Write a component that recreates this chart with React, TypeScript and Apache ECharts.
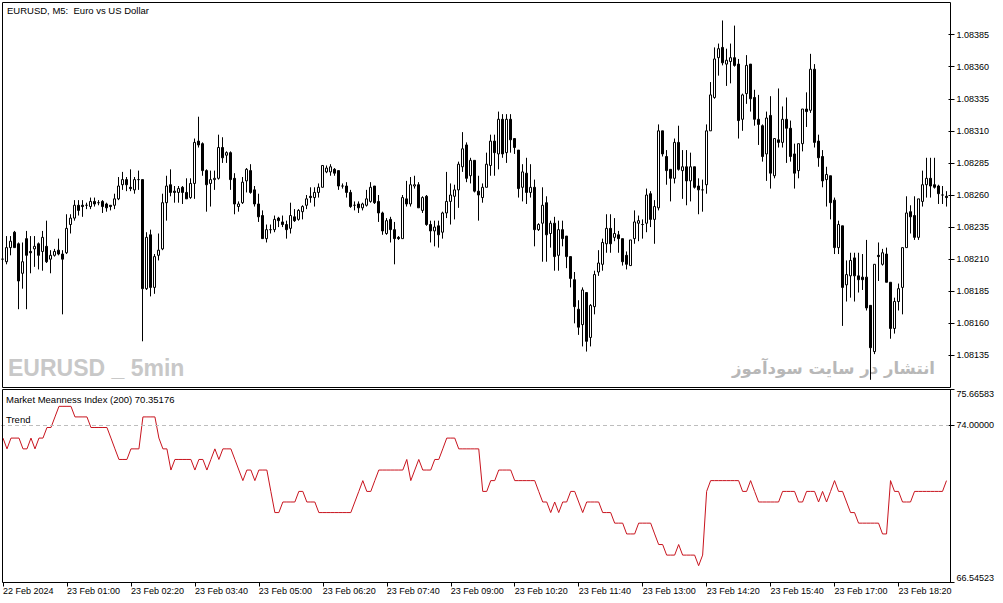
import { useEffect, useRef } from "react";
import * as echarts from "echarts";

const FONT = "'Liberation Sans', Arial, sans-serif";

// bottom time axis: one label every 16 bars (80 minutes of M5)
const timeLabels = [
  "22 Feb 2024", "23 Feb 01:00", "23 Feb 02:20", "23 Feb 03:40", "23 Feb 05:00",
  "23 Feb 06:20", "23 Feb 07:40", "23 Feb 09:00", "23 Feb 10:20", "23 Feb 11:40",
  "23 Feb 13:00", "23 Feb 14:20", "23 Feb 15:40", "23 Feb 17:00", "23 Feb 18:20",
];
const barsPerLabel = 16;

const priceTicks = [
  1.08135, 1.0816, 1.08185, 1.0821, 1.08235, 1.0826, 1.08285, 1.0831, 1.08335, 1.0836, 1.08385,
];
const priceMin = 1.0811;
const priceMax = 1.0841;

const mmiMin = 66.54523;
const mmiMax = 75.66583;
const mmiLevel = 74;

const open = [
  1.08210, 1.08208, 1.08219, 1.08231, 1.08222, 1.08199, 1.08226, 1.08216, 1.08218, 1.08222,
  1.08216, 1.08220, 1.08210, 1.08213, 1.08217, 1.08214, 1.08215, 1.08237, 1.08242, 1.08252,
  1.08252, 1.08252, 1.08251, 1.08255, 1.08254, 1.08255, 1.08253, 1.08252, 1.08252, 1.08257,
  1.08268, 1.08272, 1.08266, 1.08264, 1.08272, 1.08272, 1.08187, 1.08229, 1.08188, 1.08213,
  1.08218, 1.08254, 1.08268, 1.08263, 1.08262, 1.08266, 1.08262, 1.08258, 1.08269, 1.08302,
  1.08300, 1.08279, 1.08269, 1.08272, 1.08273, 1.08297, 1.08291, 1.08293, 1.08273, 1.08251,
  1.08254, 1.08271, 1.08279, 1.08264, 1.08253, 1.08244, 1.08226, 1.08233, 1.08233, 1.08242,
  1.08239, 1.08237, 1.08234, 1.08243, 1.08241, 1.08247, 1.08252, 1.08259, 1.08258, 1.08262,
  1.08266, 1.08278, 1.08278, 1.08280, 1.08279, 1.08267, 1.08267, 1.08262, 1.08252, 1.08253,
  1.08250, 1.08252, 1.08255, 1.08267, 1.08255, 1.08246, 1.08230, 1.08241, 1.08233, 1.08227,
  1.08226, 1.08257, 1.08253, 1.08267, 1.08268, 1.08248, 1.08259, 1.08237, 1.08232, 1.08236,
  1.08231, 1.08246, 1.08255, 1.08259, 1.08264, 1.08282, 1.08299, 1.08275, 1.08287, 1.08263,
  1.08258, 1.08266, 1.08283, 1.08302, 1.08292, 1.08319, 1.08293, 1.08319, 1.08304, 1.08295,
  1.08266, 1.08277, 1.08262, 1.08266, 1.08233, 1.08238, 1.08254, 1.08230, 1.08238, 1.08213,
  1.08233, 1.08228, 1.08212, 1.08194, 1.08171, 1.08159, 1.08184, 1.08149, 1.08173, 1.08200,
  1.08206, 1.08222, 1.08234, 1.08227, 1.08229, 1.08226, 1.08213, 1.08205, 1.08226, 1.08238,
  1.08237, 1.08238, 1.08261, 1.08241, 1.08250, 1.08310, 1.08290, 1.08280, 1.08273, 1.08301,
  1.08279, 1.08282, 1.08271, 1.08282, 1.08267, 1.08264, 1.08268, 1.08310, 1.08336, 1.08367,
  1.08375, 1.08362, 1.08364, 1.08367, 1.08362, 1.08319, 1.08339, 1.08362, 1.08336, 1.08319,
  1.08314, 1.08292, 1.08322, 1.08275, 1.08303, 1.08301, 1.08319, 1.08312, 1.08292, 1.08279,
  1.08300, 1.08327, 1.08326, 1.08358, 1.08302, 1.08290, 1.08272, 1.08275, 1.08256, 1.08219,
  1.08236, 1.08190, 1.08197, 1.08211, 1.08197, 1.08196, 1.08196, 1.08174, 1.08138, 1.08213,
  1.08206, 1.08214, 1.08192, 1.08156, 1.08177, 1.08188, 1.08219, 1.08247, 1.08244, 1.08227,
  1.08255, 1.08268, 1.08273, 1.08268, 1.08267, 1.08260, 1.08259,
];

const high = [
  1.08211, 1.08228, 1.08228, 1.08232, 1.08223, 1.08223, 1.08232, 1.08228, 1.08228, 1.08223,
  1.08232, 1.08240, 1.08217, 1.08218, 1.08226, 1.08217, 1.08245, 1.08245, 1.08256, 1.08256,
  1.08256, 1.08254, 1.08258, 1.08258, 1.08256, 1.08256, 1.08254, 1.08252, 1.08261, 1.08274,
  1.08278, 1.08274, 1.08280, 1.08274, 1.08279, 1.08272, 1.08231, 1.08233, 1.08214, 1.08230,
  1.08261, 1.08275, 1.08280, 1.08267, 1.08267, 1.08267, 1.08273, 1.08273, 1.08304, 1.08321,
  1.08301, 1.08280, 1.08279, 1.08279, 1.08307, 1.08305, 1.08294, 1.08294, 1.08277, 1.08255,
  1.08274, 1.08281, 1.08284, 1.08267, 1.08261, 1.08248, 1.08237, 1.08237, 1.08244, 1.08243,
  1.08244, 1.08240, 1.08254, 1.08249, 1.08249, 1.08252, 1.08260, 1.08266, 1.08266, 1.08269,
  1.08283, 1.08283, 1.08284, 1.08281, 1.08279, 1.08269, 1.08270, 1.08264, 1.08255, 1.08255,
  1.08254, 1.08264, 1.08270, 1.08267, 1.08260, 1.08247, 1.08242, 1.08243, 1.08239, 1.08228,
  1.08260, 1.08271, 1.08274, 1.08275, 1.08270, 1.08259, 1.08260, 1.08240, 1.08240, 1.08240,
  1.08247, 1.08278, 1.08269, 1.08268, 1.08286, 1.08309, 1.08301, 1.08289, 1.08287, 1.08275,
  1.08269, 1.08293, 1.08307, 1.08307, 1.08325, 1.08323, 1.08323, 1.08323, 1.08304, 1.08295,
  1.08284, 1.08289, 1.08284, 1.08272, 1.08238, 1.08266, 1.08259, 1.08240, 1.08243, 1.08240,
  1.08240, 1.08228, 1.08212, 1.08200, 1.08178, 1.08188, 1.08184, 1.08175, 1.08201, 1.08217,
  1.08226, 1.08245, 1.08245, 1.08242, 1.08232, 1.08226, 1.08216, 1.08225, 1.08248, 1.08244,
  1.08241, 1.08265, 1.08263, 1.08256, 1.08315, 1.08310, 1.08295, 1.08280, 1.08304, 1.08314,
  1.08295, 1.08295, 1.08293, 1.08282, 1.08273, 1.08272, 1.08315, 1.08348, 1.08375, 1.08378,
  1.08396, 1.08374, 1.08378, 1.08392, 1.08366, 1.08339, 1.08369, 1.08362, 1.08342, 1.08338,
  1.08315, 1.08325, 1.08337, 1.08304, 1.08343, 1.08329, 1.08336, 1.08318, 1.08300, 1.08300,
  1.08327, 1.08340, 1.08370, 1.08362, 1.08307, 1.08295, 1.08282, 1.08275, 1.08258, 1.08240,
  1.08236, 1.08209, 1.08215, 1.08215, 1.08215, 1.08214, 1.08225, 1.08174, 1.08206, 1.08223,
  1.08218, 1.08219, 1.08192, 1.08180, 1.08191, 1.08219, 1.08259, 1.08252, 1.08259, 1.08257,
  1.08279, 1.08289, 1.08289, 1.08289, 1.08268, 1.08267, 1.08263,
];

const low = [
  1.08209, 1.08206, 1.08213, 1.08219, 1.08171, 1.08187, 1.08171, 1.08199, 1.08204, 1.08202,
  1.08201, 1.08207, 1.08199, 1.08212, 1.08213, 1.08167, 1.08214, 1.08230, 1.08240, 1.08244,
  1.08243, 1.08249, 1.08249, 1.08251, 1.08252, 1.08246, 1.08247, 1.08248, 1.08249, 1.08256,
  1.08264, 1.08263, 1.08263, 1.08261, 1.08264, 1.08146, 1.08186, 1.08181, 1.08183, 1.08209,
  1.08217, 1.08240, 1.08259, 1.08254, 1.08254, 1.08253, 1.08257, 1.08257, 1.08257, 1.08297,
  1.08275, 1.08247, 1.08251, 1.08264, 1.08272, 1.08285, 1.08285, 1.08264, 1.08245, 1.08247,
  1.08253, 1.08262, 1.08261, 1.08251, 1.08239, 1.08226, 1.08223, 1.08230, 1.08231, 1.08235,
  1.08235, 1.08226, 1.08230, 1.08239, 1.08240, 1.08241, 1.08249, 1.08254, 1.08251, 1.08258,
  1.08266, 1.08277, 1.08275, 1.08275, 1.08264, 1.08265, 1.08258, 1.08250, 1.08248, 1.08246,
  1.08248, 1.08251, 1.08254, 1.08253, 1.08239, 1.08229, 1.08229, 1.08223, 1.08206, 1.08225,
  1.08226, 1.08251, 1.08251, 1.08265, 1.08250, 1.08246, 1.08236, 1.08223, 1.08220, 1.08219,
  1.08226, 1.08242, 1.08237, 1.08241, 1.08250, 1.08278, 1.08270, 1.08269, 1.08262, 1.08240,
  1.08254, 1.08266, 1.08275, 1.08275, 1.08280, 1.08289, 1.08285, 1.08293, 1.08292, 1.08258,
  1.08255, 1.08253, 1.08258, 1.08220, 1.08232, 1.08208, 1.08208, 1.08219, 1.08201, 1.08201,
  1.08220, 1.08203, 1.08188, 1.08160, 1.08151, 1.08142, 1.08138, 1.08142, 1.08167, 1.08197,
  1.08201, 1.08215, 1.08215, 1.08224, 1.08215, 1.08205, 1.08202, 1.08205, 1.08222, 1.08224,
  1.08226, 1.08231, 1.08235, 1.08222, 1.08248, 1.08290, 1.08268, 1.08255, 1.08269, 1.08279,
  1.08257, 1.08252, 1.08255, 1.08265, 1.08245, 1.08247, 1.08261, 1.08310, 1.08335, 1.08353,
  1.08361, 1.08345, 1.08347, 1.08360, 1.08304, 1.08310, 1.08331, 1.08325, 1.08314, 1.08299,
  1.08286, 1.08271, 1.08265, 1.08273, 1.08297, 1.08297, 1.08285, 1.08286, 1.08265, 1.08273,
  1.08294, 1.08313, 1.08324, 1.08297, 1.08282, 1.08266, 1.08251, 1.08241, 1.08214, 1.08214,
  1.08158, 1.08177, 1.08180, 1.08177, 1.08184, 1.08186, 1.08170, 1.08116, 1.08136, 1.08193,
  1.08205, 1.08192, 1.08148, 1.08152, 1.08170, 1.08167, 1.08219, 1.08230, 1.08225, 1.08225,
  1.08251, 1.08258, 1.08258, 1.08265, 1.08253, 1.08253, 1.08251,
];

const close = [
  1.08210, 1.08219, 1.08224, 1.08219, 1.08193, 1.08208, 1.08213, 1.08215, 1.08220, 1.08213,
  1.08227, 1.08208, 1.08213, 1.08216, 1.08214, 1.08210, 1.08234, 1.08242, 1.08252, 1.08248,
  1.08251, 1.08252, 1.08255, 1.08253, 1.08254, 1.08251, 1.08250, 1.08251, 1.08257, 1.08267,
  1.08272, 1.08268, 1.08265, 1.08272, 1.08272, 1.08187, 1.08227, 1.08188, 1.08212, 1.08217,
  1.08254, 1.08267, 1.08262, 1.08262, 1.08265, 1.08262, 1.08257, 1.08269, 1.08301, 1.08299,
  1.08279, 1.08268, 1.08272, 1.08273, 1.08297, 1.08289, 1.08293, 1.08272, 1.08253, 1.08253,
  1.08270, 1.08280, 1.08262, 1.08253, 1.08243, 1.08226, 1.08233, 1.08233, 1.08241, 1.08240,
  1.08237, 1.08233, 1.08244, 1.08240, 1.08248, 1.08251, 1.08257, 1.08258, 1.08262, 1.08266,
  1.08283, 1.08281, 1.08282, 1.08277, 1.08267, 1.08267, 1.08262, 1.08251, 1.08252, 1.08250,
  1.08253, 1.08257, 1.08266, 1.08254, 1.08246, 1.08232, 1.08240, 1.08233, 1.08226, 1.08226,
  1.08258, 1.08253, 1.08268, 1.08268, 1.08250, 1.08258, 1.08237, 1.08232, 1.08235, 1.08229,
  1.08246, 1.08255, 1.08260, 1.08264, 1.08284, 1.08296, 1.08273, 1.08287, 1.08263, 1.08260,
  1.08266, 1.08284, 1.08302, 1.08293, 1.08319, 1.08292, 1.08319, 1.08303, 1.08297, 1.08265,
  1.08278, 1.08262, 1.08266, 1.08233, 1.08237, 1.08252, 1.08229, 1.08238, 1.08212, 1.08233,
  1.08226, 1.08212, 1.08195, 1.08173, 1.08157, 1.08186, 1.08146, 1.08174, 1.08198, 1.08207,
  1.08223, 1.08234, 1.08222, 1.08230, 1.08226, 1.08208, 1.08206, 1.08225, 1.08239, 1.08240,
  1.08237, 1.08260, 1.08241, 1.08251, 1.08310, 1.08292, 1.08279, 1.08273, 1.08301, 1.08280,
  1.08282, 1.08271, 1.08282, 1.08266, 1.08264, 1.08264, 1.08310, 1.08338, 1.08366, 1.08374,
  1.08363, 1.08365, 1.08367, 1.08361, 1.08318, 1.08338, 1.08361, 1.08335, 1.08319, 1.08315,
  1.08290, 1.08320, 1.08277, 1.08304, 1.08301, 1.08319, 1.08312, 1.08290, 1.08277, 1.08300,
  1.08327, 1.08325, 1.08358, 1.08301, 1.08289, 1.08271, 1.08276, 1.08254, 1.08219, 1.08237,
  1.08188, 1.08198, 1.08209, 1.08197, 1.08194, 1.08194, 1.08172, 1.08141, 1.08206, 1.08212,
  1.08215, 1.08192, 1.08156, 1.08177, 1.08187, 1.08219, 1.08246, 1.08243, 1.08227, 1.08257,
  1.08268, 1.08273, 1.08267, 1.08266, 1.08261, 1.08260, 1.08258,
];

// Market Meanness Index (200), one value per bar
const mmi = [
  73.37, 72.86, 73.37, 73.37, 73.37, 72.86, 72.86, 73.37, 72.86, 73.37,
  73.37, 73.87, 73.87, 74.37, 74.87, 74.87, 74.87, 74.87, 74.37, 74.37,
  74.37, 74.37, 73.87, 73.87, 73.87, 73.87, 73.87, 73.37, 72.86, 72.36,
  72.36, 72.36, 72.86, 72.86, 72.86, 74.37, 74.37, 74.37, 74.37, 73.37,
  72.86, 72.86, 71.86, 72.36, 72.36, 72.36, 72.36, 72.36, 71.86, 72.36,
  72.36, 71.86, 72.36, 72.86, 72.36, 72.86, 72.86, 72.86, 72.36, 71.86,
  71.36, 71.86, 71.86, 71.36, 71.86, 71.86, 71.86, 70.85, 69.85, 69.85,
  70.35, 70.35, 70.35, 70.35, 70.85, 70.85, 70.35, 70.35, 70.35, 69.85,
  69.85, 69.85, 69.85, 69.85, 69.85, 69.85, 69.85, 69.85, 70.35, 70.85,
  71.36, 70.85, 70.85, 71.36, 71.86, 71.86, 71.86, 71.86, 71.86, 71.86,
  71.86, 72.36, 71.36, 71.86, 72.36, 71.86, 71.86, 71.86, 72.36, 72.36,
  72.86, 73.37, 73.37, 73.37, 72.86, 72.86, 72.86, 72.86, 72.86, 72.86,
  70.85, 70.85, 71.36, 71.36, 71.86, 71.86, 71.86, 71.86, 71.36, 71.36,
  71.36, 71.36, 71.36, 71.36, 70.85, 70.35, 70.35, 69.85, 70.35, 69.85,
  70.35, 70.35, 70.85, 70.85, 70.35, 69.85, 70.35, 70.35, 70.35, 70.35,
  69.85, 69.85, 69.85, 69.35, 69.35, 69.35, 68.84, 68.84, 68.84, 69.35,
  69.35, 69.35, 69.35, 68.84, 68.34, 68.34, 67.84, 67.84, 67.84, 68.34,
  67.84, 67.84, 67.84, 67.84, 67.34, 67.84, 70.85, 71.36, 71.36, 71.36,
  71.36, 71.36, 71.36, 71.36, 71.36, 70.85, 70.85, 71.36, 70.85, 70.35,
  70.35, 70.35, 70.35, 70.35, 70.35, 70.85, 70.85, 70.85, 70.85, 70.35,
  70.35, 70.85, 70.85, 70.85, 70.35, 70.85, 70.35, 70.85, 71.36, 70.85,
  70.85, 70.35, 69.85, 69.85, 69.35, 69.35, 69.35, 69.35, 69.35, 69.35,
  68.84, 68.84, 71.36, 70.85, 70.85, 70.35, 70.35, 70.35, 70.85, 70.85,
  70.85, 70.85, 70.85, 70.85, 70.85, 70.85, 71.36,
];

const categories = open.map((_, i) =>
  i % barsPerLabel === 0 ? timeLabels[i / barsPerLabel] ?? "" : "",
);

const labelText = { color: "#000", fontSize: 9, fontFamily: FONT };

function buildOption(): echarts.EChartsOption {
  const panelY = (gridIndex: number, extra: object) => ({
    type: "value" as const,
    gridIndex,
    position: "right" as const,
    scale: true,
    axisLine: { show: false },
    splitLine: { show: false },
    ...extra,
  });
  return {
    animation: false,
    backgroundColor: "#fff",
    textStyle: { fontFamily: FONT },
    grid: [
      { left: 0.5, top: 2.5, width: 948, height: 385 },
      { left: 0.5, top: 389.5, width: 948, height: 193 },
    ],
    xAxis: [
      { type: "category", gridIndex: 0, data: categories, show: false },
      {
        type: "category",
        gridIndex: 1,
        data: categories,
        axisLine: { show: false },
        axisTick: {
          show: true,
          alignWithLabel: true,
          interval: barsPerLabel - 1,
          length: 4,
          lineStyle: { color: "#000" },
        },
        axisLabel: { ...labelText, interval: barsPerLabel - 1, align: "left", margin: 4 },
        splitLine: { show: false },
      },
    ],
    yAxis: [
      panelY(0, {
        min: priceMin,
        max: priceMax,
        axisTick: { show: true, length: 6, customValues: priceTicks, lineStyle: { color: "#000" } },
        axisLabel: {
          ...labelText,
          margin: 8,
          customValues: priceTicks,
          formatter: (v: number) => v.toFixed(5),
        },
      }),
      panelY(1, {
        min: mmiMin,
        max: mmiMax,
        axisTick: {
          show: true,
          length: 6,
          customValues: [mmiMin, mmiLevel, mmiMax],
          lineStyle: { color: "#000" },
        },
        axisLabel: {
          ...labelText,
          margin: 8,
          customValues: [mmiLevel],
          formatter: (v: number) => v.toFixed(5),
        },
      }),
      panelY(1, {
        min: mmiMin,
        max: mmiMax,
        axisTick: { show: false },
        axisLabel: {
          ...labelText,
          margin: 8,
          verticalAlign: "top",
          customValues: [mmiMax],
          formatter: (v: number) => v.toFixed(5),
        },
      }),
      panelY(1, {
        min: mmiMin,
        max: mmiMax,
        axisTick: { show: false },
        axisLabel: {
          ...labelText,
          margin: 8,
          verticalAlign: "bottom",
          customValues: [mmiMin],
          formatter: (v: number) => v.toFixed(5),
        },
      }),
    ],
    series: [
      {
        type: "candlestick",
        xAxisIndex: 0,
        yAxisIndex: 0,
        barWidth: 2,
        data: open.map((o, i) => [o, close[i], low[i], high[i]]),
        itemStyle: {
          color: "#ffffff",
          color0: "#000000",
          borderColor: "#000000",
          borderColor0: "#000000",
          borderColorDoji: "#000000",
          borderWidth: 1,
        },
        z: 3,
      },
      {
        type: "line",
        xAxisIndex: 1,
        yAxisIndex: 1,
        data: mmi,
        showSymbol: false,
        symbol: "none",
        lineStyle: { color: "#c8141e", width: 1 },
        itemStyle: { color: "#c8141e" },
        markLine: {
          silent: true,
          symbol: "none",
          label: { show: false },
          lineStyle: { color: "#bdbdbd", type: [4, 3], width: 1 },
          data: [{ yAxis: mmiLevel }],
        },
        z: 3,
      },
    ],
    graphic: [
      {
        type: "text",
        z: 0,
        style: {
          text: "EURUSD _ 5min",
          x: 8,
          y: 368,
          fill: "#c8c8c8",
          fontSize: 23,
          fontWeight: "bold",
          fontFamily: FONT,
          verticalAlign: "middle",
        },
      },
      {
        type: "text",
        z: 0,
        style: {
          text: "انتشار در سایت سودآموز",
          x: 935,
          y: 368,
          fill: "#b8b8b8",
          fontSize: 16.5,
          fontWeight: "bold",
          fontFamily: "'DejaVu Sans', sans-serif",
          align: "right",
          verticalAlign: "middle",
        },
      },
      {
        type: "text",
        z: 20,
        style: {
          text: "EURUSD, M5:  Euro vs US Dollar",
          x: 7,
          y: 10,
          fill: "#000",
          fontSize: 9.5,
          fontFamily: FONT,
          verticalAlign: "middle",
        },
      },
      {
        type: "text",
        z: 20,
        style: {
          text: "Market Meanness Index (200) 70.35176",
          x: 6,
          y: 399,
          fill: "#000",
          fontSize: 9.5,
          fontFamily: FONT,
          verticalAlign: "middle",
        },
      },
      {
        type: "text",
        z: 20,
        style: {
          text: "Trend",
          x: 6,
          y: 419,
          fill: "#000",
          fontSize: 9.5,
          fontFamily: FONT,
          verticalAlign: "middle",
        },
      },
      {
        type: "rect",
        z: 30,
        silent: true,
        shape: { x: 2.5, y: 2.5, width: 948, height: 385 },
        style: { fill: "none", stroke: "#000", lineWidth: 1 },
      },
      {
        type: "rect",
        z: 30,
        silent: true,
        shape: { x: 2.5, y: 389.5, width: 948, height: 193 },
        style: { fill: "none", stroke: "#000", lineWidth: 1 },
      },
    ],
  };
}

export default function App() {
  const nodeRef = useRef<HTMLDivElement | null>(null);

  useEffect(() => {
    if (!nodeRef.current) return;
    const chart = echarts.init(nodeRef.current, undefined, { renderer: "svg" });
    chart.setOption(buildOption());
    return () => chart.dispose();
  }, []);

  return (
    <div
      ref={nodeRef}
      style={{ position: "fixed", left: 0, top: 0, width: 1003, height: 603, background: "#fff" }}
    />
  );
}
